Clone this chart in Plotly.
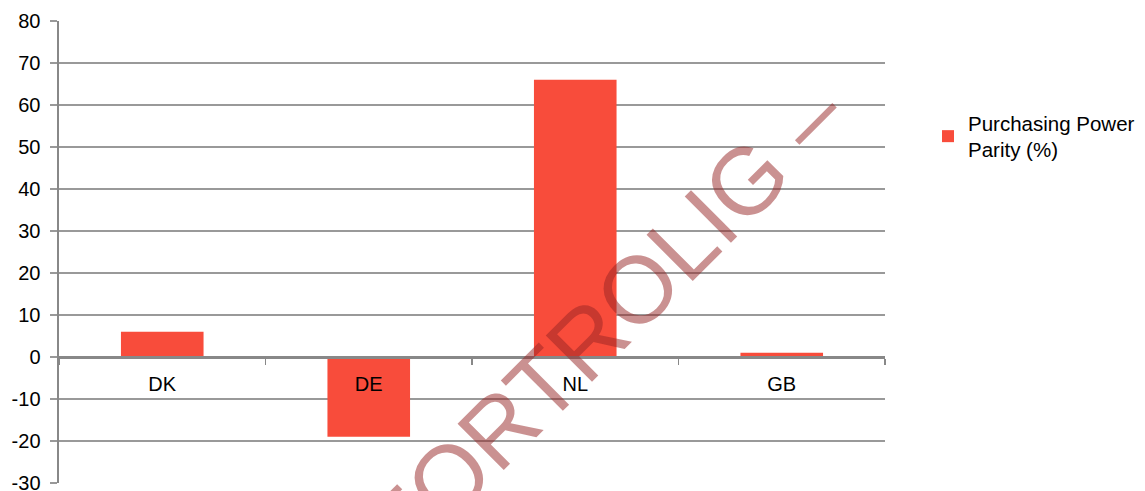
import plotly.graph_objects as go

categories = ["DK", "DE", "NL", "GB"]
ppp_values = [6, -19, 66, 1]
series_name = "Purchasing Power<br>Parity (%)"
y_ticks = [-30, -20, -10, 0, 10, 20, 30, 40, 50, 60, 70, 80]
y_ticklabels = [str(v) for v in y_ticks]

W, H = 1145, 491
L, R, T, B = 59, 885, 21, 483
ymin, ymax = -30, 80

def px_to_paper(px, py):
    return (px - L) / (R - L), (B - py) / (B - T)

fig = go.Figure()
fig.add_trace(go.Bar(
    x=categories, y=ppp_values, name=series_name,
    marker=dict(color="#F84C3B", line=dict(width=0)),
    showlegend=True, hoverinfo="skip",
))

wx, wy = px_to_paper(605, 322)
fig.add_annotation(
    text="FORTROLIG –", xref="paper", yref="paper", x=wx, y=wy,
    showarrow=False, textangle=-45,
    font=dict(family="Liberation Sans, Arial, sans-serif", size=95,
              color="rgba(150,35,35,0.5)"),
    xanchor="center", yanchor="middle",
)

fig.update_layout(
    width=W, height=H,
    margin=dict(l=L, r=W - R, t=T, b=H - B, pad=0, autoexpand=False),
    paper_bgcolor="white", plot_bgcolor="white",
    font=dict(family="Liberation Sans, Arial, sans-serif", size=20, color="black"),
    bargap=0.6,
    showlegend=True,
    legend=dict(x=(928 - L) / (R - L), y=(B - 103) / (B - T), xanchor="left", yanchor="top",
                font=dict(size=20.5), bgcolor="rgba(0,0,0,0)", itemwidth=30,
                tracegroupgap=0),
    xaxis=dict(
        type="category", anchor="free", position=(0 - ymin) / (ymax - ymin),
        showline=True, linecolor="#888888", linewidth=2.5,
        ticks="outside", tickson="boundaries", ticklen=6, tickwidth=1.5, tickcolor="#888888",
        showgrid=False, tickfont=dict(size=20), ticklabelstandoff=8,
        fixedrange=True, automargin=False,
    ),
    yaxis=dict(
        range=[ymin, ymax], tickvals=y_ticks, ticktext=y_ticklabels,
        showgrid=True, gridcolor="#999999", gridwidth=1.5,
        zeroline=False, showline=True, linecolor="#888888", linewidth=2.5,
        ticks="outside", ticklen=7, tickwidth=1.5, tickcolor="#999999",
        ticklabelstandoff=5, tickfont=dict(size=20), automargin=False,
        ticklabeloverflow="allow", fixedrange=True,
    ),
)

fig.write_html("out.html", config={"displayModeBar": False, "staticPlot": True},
               post_script="document.body.style.margin='0';document.body.style.overflow='hidden';")
